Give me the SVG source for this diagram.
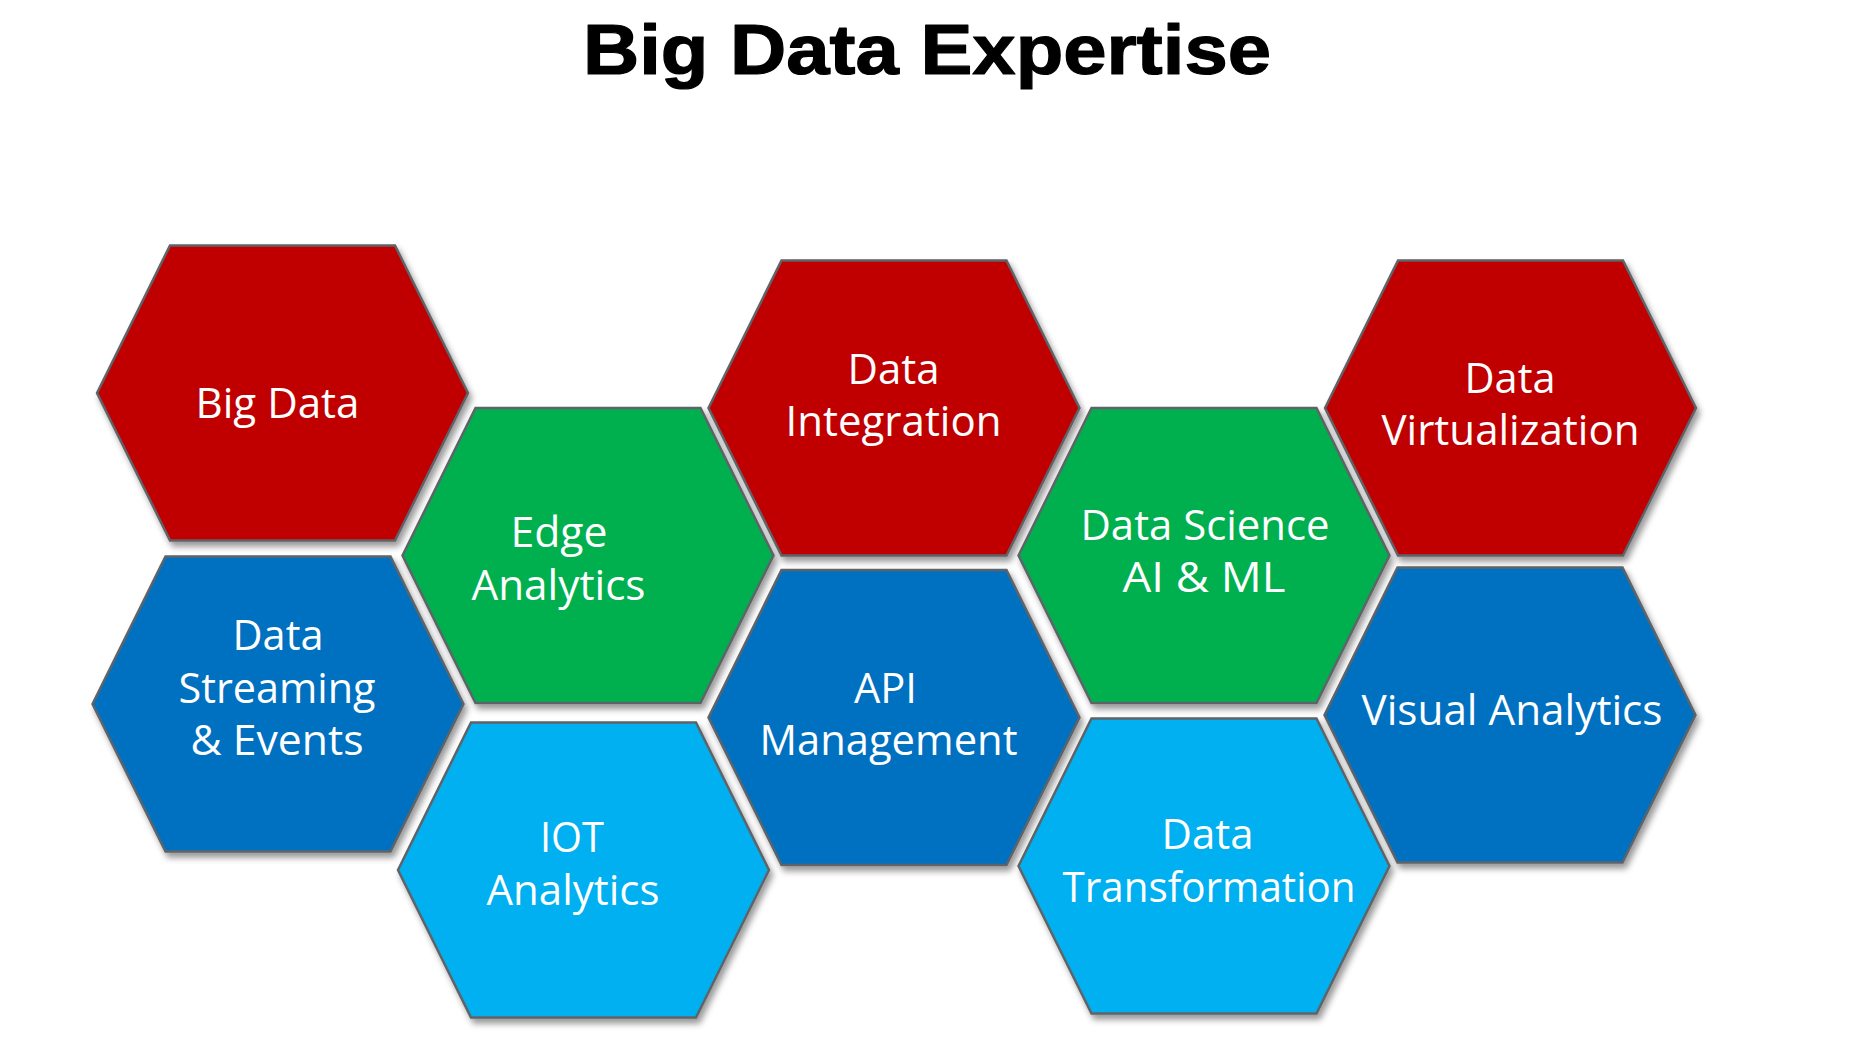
<svg xmlns="http://www.w3.org/2000/svg" xmlns:xlink="http://www.w3.org/1999/xlink" width="1864" height="1049" viewBox="0 0 1864 1049">
<style>
.hex{stroke:#5f6468;stroke-width:2.5;stroke-linejoin:miter;filter:url(#sh)}
.red{fill:#C00000}.green{fill:#00B050}.blue{fill:#0070C0}.lblue{fill:#00B0F0}
.lbl{font-family:"Open Sans","Noto Sans","DejaVu Sans",sans-serif;font-size:42px;fill:#ffffff;text-anchor:middle}
.title{font-family:"Liberation Sans",Arial,sans-serif;font-weight:bold;font-size:71px;fill:#000000;stroke:#000000;stroke-width:1.2;stroke-linejoin:round}
</style>
<defs>
<filter id="sh" x="-10%" y="-10%" width="125%" height="125%">
<feDropShadow dx="3" dy="5" stdDeviation="3" flood-color="#000000" flood-opacity="0.4"/>
</filter>
<polygon id="hx" points="-185.5,0 -112.5,-147.5 112.5,-147.5 185.5,0 112.5,147.5 -112.5,147.5"/>
</defs>
<rect width="1864" height="1049" fill="#ffffff"/>
<text class="title" x="583" y="74" textLength="688" lengthAdjust="spacingAndGlyphs">Big Data Expertise</text>
<g id="connectors"></g>
<g id="big-data">
<use xlink:href="#hx" href="#hx" class="hex red" x="282.5" y="393"/>
<text class="lbl" x="277.5" y="418" textLength="164" lengthAdjust="spacingAndGlyphs">Big Data</text>
</g>
<g id="data-streaming">
<use xlink:href="#hx" href="#hx" class="hex blue" x="278" y="704"/>
<text class="lbl" x="278" y="650" textLength="91" lengthAdjust="spacingAndGlyphs">Data</text>
<text class="lbl" x="277" y="703" textLength="197" lengthAdjust="spacingAndGlyphs">Streaming</text>
<text class="lbl" x="277" y="755" textLength="173" lengthAdjust="spacingAndGlyphs">&amp; Events</text>
</g>
<g id="edge-analytics">
<use xlink:href="#hx" href="#hx" class="hex green" x="588" y="555.5"/>
<text class="lbl" x="559" y="547" textLength="97" lengthAdjust="spacingAndGlyphs">Edge</text>
<text class="lbl" x="558.5" y="600" textLength="174" lengthAdjust="spacingAndGlyphs">Analytics</text>
</g>
<g id="iot-analytics">
<use xlink:href="#hx" href="#hx" class="hex lblue" x="583.5" y="870"/>
<text class="lbl" x="572" y="852" textLength="64" lengthAdjust="spacingAndGlyphs">IOT</text>
<text class="lbl" x="573" y="905" textLength="173" lengthAdjust="spacingAndGlyphs">Analytics</text>
</g>
<g id="data-integration">
<use xlink:href="#hx" href="#hx" class="hex red" x="894" y="408"/>
<text class="lbl" x="893.5" y="384" textLength="92" lengthAdjust="spacingAndGlyphs">Data</text>
<text class="lbl" x="893.5" y="436" textLength="216" lengthAdjust="spacingAndGlyphs">Integration</text>
</g>
<g id="api-management">
<use xlink:href="#hx" href="#hx" class="hex blue" x="894" y="717.5"/>
<text class="lbl" x="885.5" y="703" textLength="63" lengthAdjust="spacingAndGlyphs">API</text>
<text class="lbl" x="888.5" y="755" textLength="258" lengthAdjust="spacingAndGlyphs">Management</text>
</g>
<g id="data-science">
<use xlink:href="#hx" href="#hx" class="hex green" x="1204" y="555.5"/>
<text class="lbl" x="1205" y="540" textLength="249" lengthAdjust="spacingAndGlyphs">Data Science</text>
<text class="lbl" x="1204" y="592" textLength="163" lengthAdjust="spacingAndGlyphs">AI &amp; ML</text>
</g>
<g id="data-transformation">
<use xlink:href="#hx" href="#hx" class="hex lblue" x="1204" y="866"/>
<text class="lbl" x="1207.5" y="849" textLength="92" lengthAdjust="spacingAndGlyphs">Data</text>
<text class="lbl" x="1209" y="902" textLength="293" lengthAdjust="spacingAndGlyphs">Transformation</text>
</g>
<g id="data-virtualization">
<use xlink:href="#hx" href="#hx" class="hex red" x="1510.5" y="408"/>
<text class="lbl" x="1510" y="393" textLength="91" lengthAdjust="spacingAndGlyphs">Data</text>
<text class="lbl" x="1510.5" y="445" textLength="258" lengthAdjust="spacingAndGlyphs">Virtualization</text>
</g>
<g id="visual-analytics">
<use xlink:href="#hx" href="#hx" class="hex blue" x="1510" y="715"/>
<text class="lbl" x="1512" y="725" textLength="301" lengthAdjust="spacingAndGlyphs">Visual Analytics</text>
</g>
</svg>
